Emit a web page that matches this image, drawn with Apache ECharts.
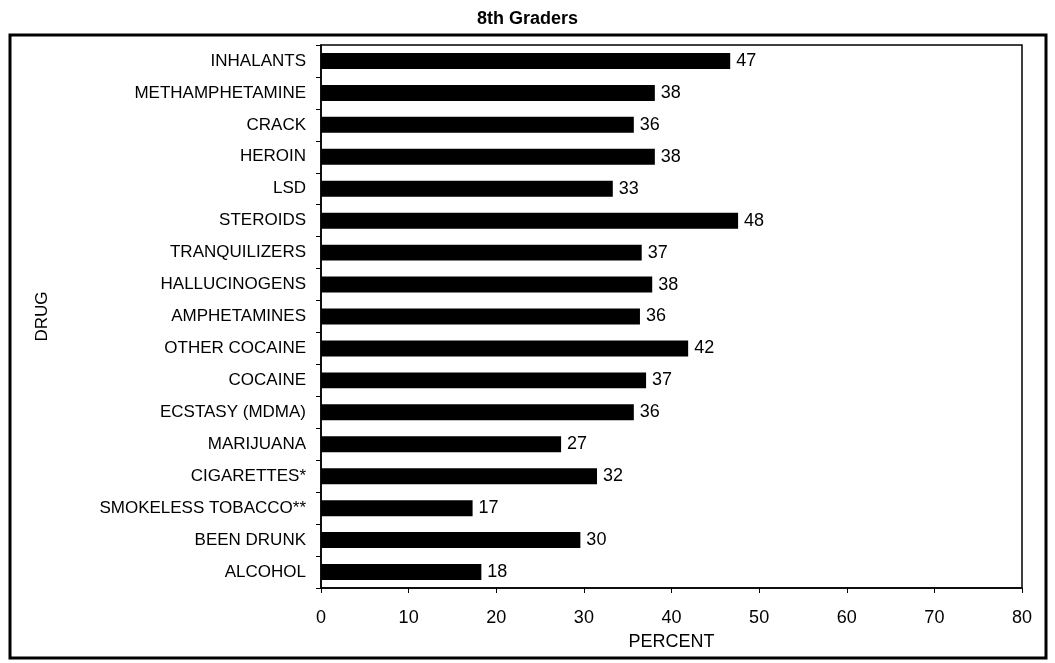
<!DOCTYPE html>
<html><head><meta charset="utf-8">
<script src="https://cdn.jsdelivr.net/npm/echarts@6/dist/echarts.min.js"></script>
<style>html,body{margin:0;padding:0;background:#fff}#c{width:1055px;height:663px}</style>
</head><body><div id="c"></div>
<script>
const categories = ["INHALANTS","METHAMPHETAMINE","CRACK","HEROIN","LSD","STEROIDS","TRANQUILIZERS","HALLUCINOGENS","AMPHETAMINES","OTHER COCAINE","COCAINE","ECSTASY (MDMA)","MARIJUANA","CIGARETTES*","SMOKELESS TOBACCO**","BEEN DRUNK","ALCOHOL"];
const values = [46.7,38.1,35.7,38.1,33.3,47.6,36.6,37.8,36.4,41.9,37.1,35.7,27.4,31.5,17.3,29.6,18.3];
const labels = [47,38,36,38,33,48,37,38,36,42,37,36,27,32,17,30,18];
const xTicks = [0,10,20,30,40,50,60,70,80];

const font = "Liberation Sans, Arial, sans-serif";
const chart = echarts.init(document.getElementById('c'));
chart.setOption({
  animation:false,
  backgroundColor:'#fff',
  title:{text:'8th Graders',left:'center',top:5,textStyle:{fontFamily:font,fontSize:18,fontWeight:'bold',color:'#000'}},
  graphic:[{type:'rect',shape:{x:10,y:35,width:1036,height:623},style:{fill:'none',stroke:'#000',lineWidth:3}}],
  grid:{left:321,top:45,right:33,bottom:75,show:true,borderColor:'#000',borderWidth:1.5,backgroundColor:'transparent'},
  xAxis:{type:'value',min:xTicks[0],max:xTicks[xTicks.length-1],interval:10,
    name:'PERCENT',nameLocation:'middle',nameGap:45,
    nameTextStyle:{fontFamily:font,fontSize:18,color:'#000'},
    axisLine:{show:true,lineStyle:{color:'#000',width:1.5}},
    axisTick:{show:true,length:5,lineStyle:{color:'#000'}},
    axisLabel:{fontFamily:font,fontSize:18,color:'#000',margin:21},
    splitLine:{show:false}},
  yAxis:{type:'category',data:categories,inverse:true,
    name:'DRUG',nameLocation:'middle',nameGap:270,nameRotate:90,
    nameTextStyle:{fontFamily:font,fontSize:17,color:'#000'},
    axisLine:{show:true,lineStyle:{color:'#000',width:1.5}},
    axisTick:{show:true,length:5,lineStyle:{color:'#000'}},
    axisLabel:{fontFamily:font,fontSize:17,color:'#000',margin:15}},
  series:[{type:'bar',data:values,barWidth:'50%',
    itemStyle:{color:'#000'},
    label:{show:true,position:'right',distance:6,fontFamily:font,fontSize:18,color:'#000',
      formatter:p=>String(labels[p.dataIndex])}}]
});
</script></body></html>
